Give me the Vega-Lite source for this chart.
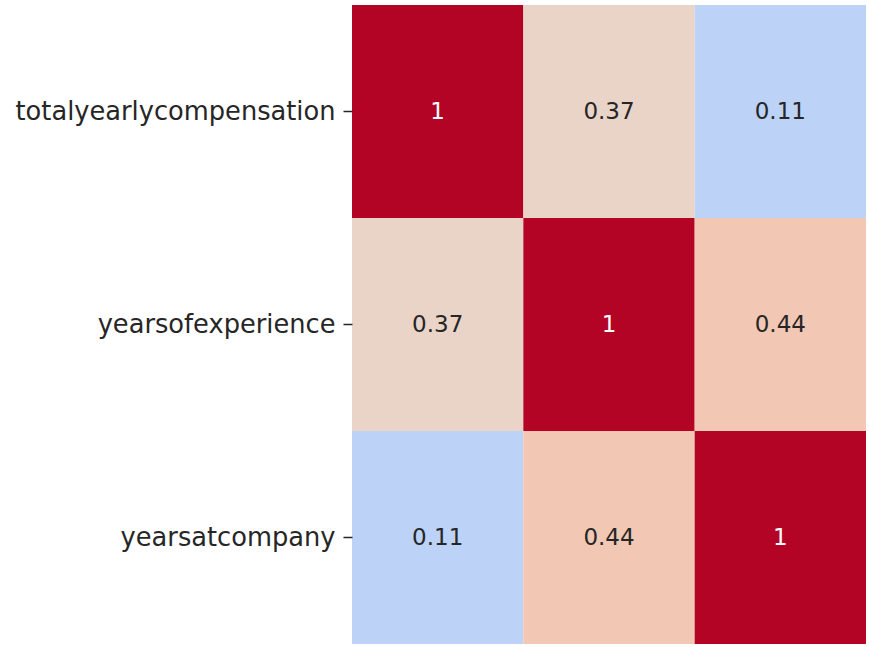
{
  "$schema": "https://vega.github.io/schema/vega-lite/v6.json",
  "width": 514,
  "height": 639,
  "autosize": "none",
  "padding": {"left": 352, "top": 5, "right": 3, "bottom": 3},
  "background": "white",
  "config": {
    "view": {"stroke": null},
    "font": "DejaVu Sans"
  },
  "data": {
    "values": [
      {"row": "totalyearlycompensation", "col": "totalyearlycompensation", "corr": 1},
      {"row": "totalyearlycompensation", "col": "yearsofexperience", "corr": 0.37},
      {"row": "totalyearlycompensation", "col": "yearsatcompany", "corr": 0.11},
      {"row": "yearsofexperience", "col": "totalyearlycompensation", "corr": 0.37},
      {"row": "yearsofexperience", "col": "yearsofexperience", "corr": 1},
      {"row": "yearsofexperience", "col": "yearsatcompany", "corr": 0.44},
      {"row": "yearsatcompany", "col": "totalyearlycompensation", "corr": 0.11},
      {"row": "yearsatcompany", "col": "yearsofexperience", "corr": 0.44},
      {"row": "yearsatcompany", "col": "yearsatcompany", "corr": 1}
    ]
  },
  "encoding": {
    "x": {
      "field": "col",
      "type": "nominal",
      "sort": ["totalyearlycompensation", "yearsofexperience", "yearsatcompany"],
      "scale": {"paddingInner": 0, "paddingOuter": 0},
      "axis": null
    },
    "y": {
      "field": "row",
      "type": "nominal",
      "sort": ["totalyearlycompensation", "yearsofexperience", "yearsatcompany"],
      "scale": {"paddingInner": 0, "paddingOuter": 0},
      "axis": {
        "title": null,
        "domain": false,
        "labelFontSize": 25.7,
        "labelLimit": 400,
        "labelColor": "#262626",
        "labelPadding": 8,
        "tickSize": 9,
        "tickWidth": 1.5,
        "tickColor": "#262626"
      }
    }
  },
  "layer": [
    {
      "mark": {"type": "rect"},
      "encoding": {
        "color": {
          "field": "corr",
          "type": "quantitative",
          "scale": {
            "domain": [0.11, 0.37, 0.44, 1],
            "range": ["#bcd2f6", "#ead4c8", "#f2c8b4", "#b40426"]
          },
          "legend": null
        }
      }
    },
    {
      "mark": {"type": "text", "fontSize": 23, "baseline": "middle"},
      "encoding": {
        "text": {"field": "corr", "type": "quantitative", "format": ".2~f"},
        "color": {
          "condition": {"test": "datum.corr > 0.9", "value": "#ffffff"},
          "value": "#262626"
        }
      }
    }
  ]
}
